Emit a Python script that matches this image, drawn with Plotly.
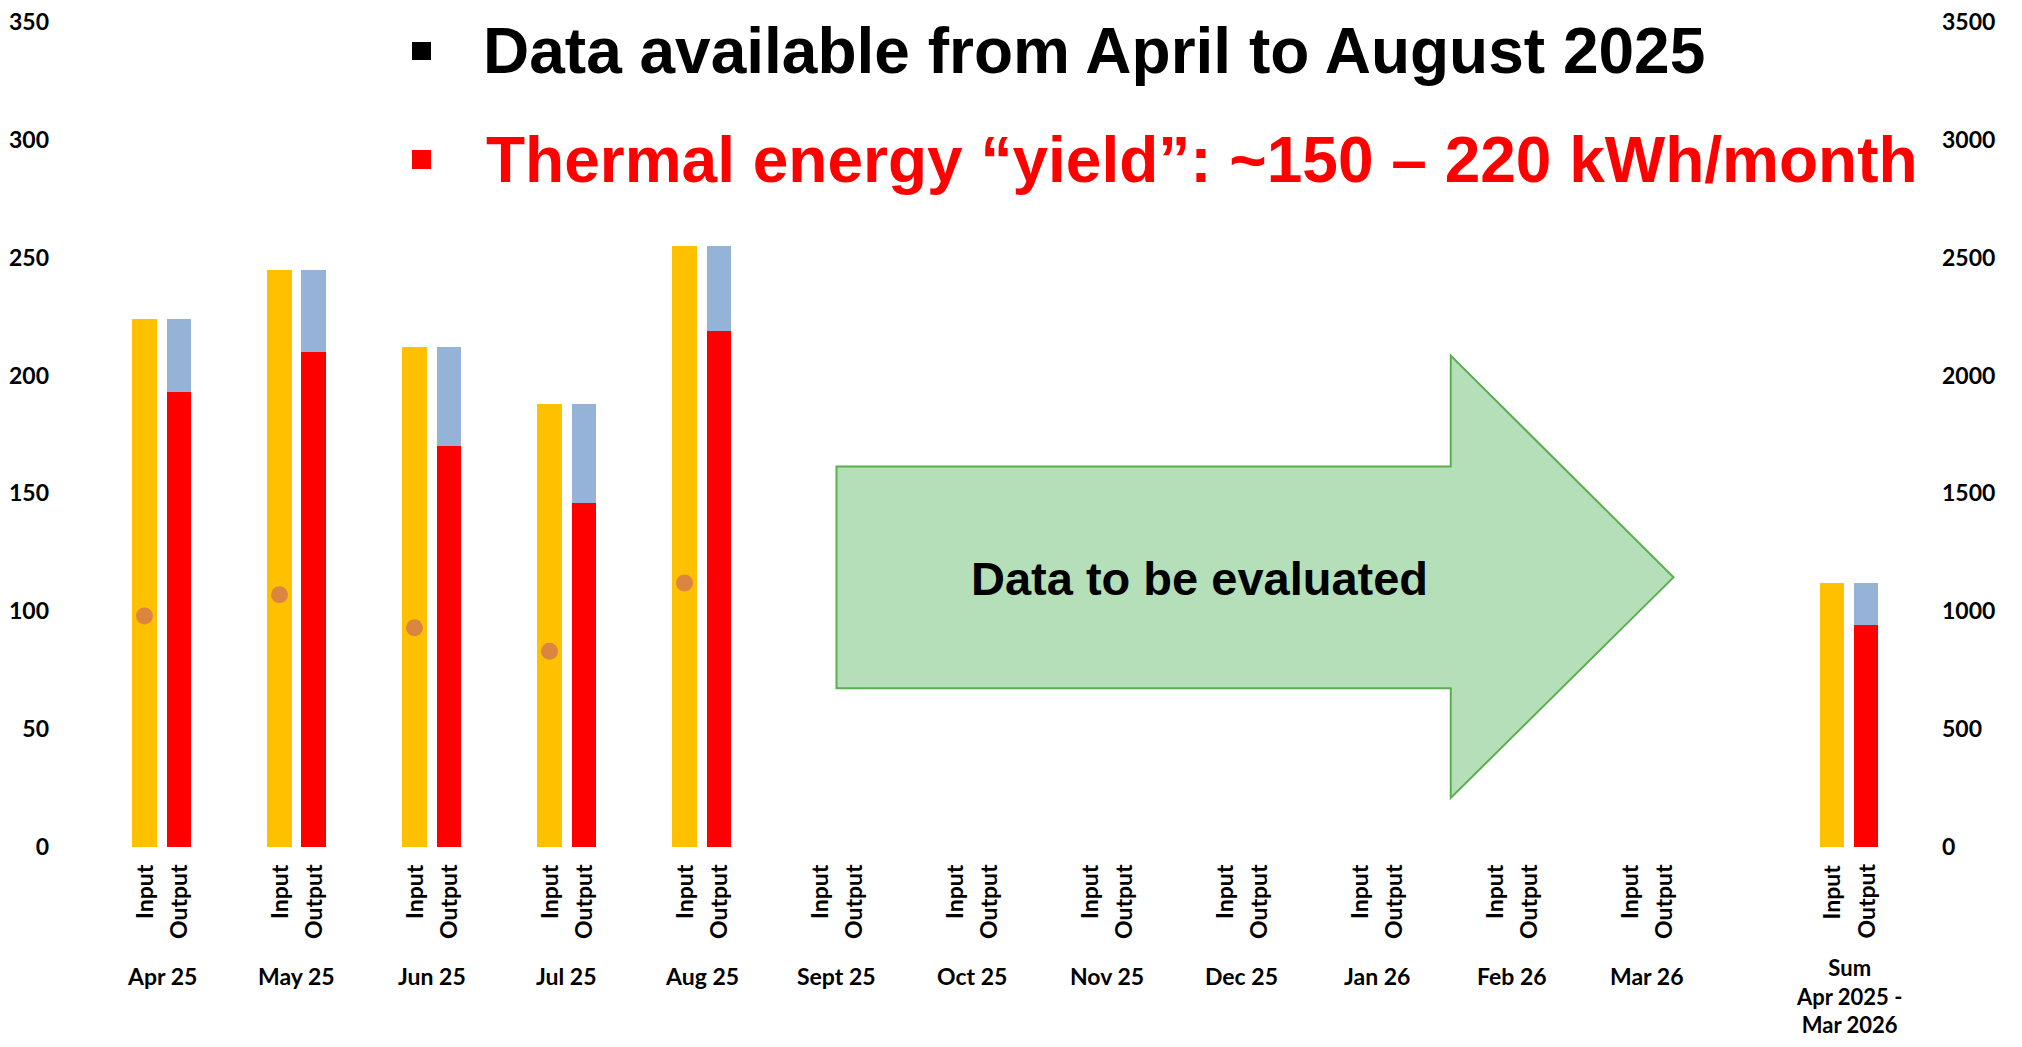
import plotly.graph_objects as go

# ---------------- data ----------------
months = ["Apr 25", "May 25", "Jun 25", "Jul 25", "Aug 25", "Sept 25", "Oct 25",
          "Nov 25", "Dec 25", "Jan 26", "Feb 26", "Mar 26"]
sum_label = "Sum<br>Apr 2025 -<br>Mar 2026"
bar_labels = ["Input", "Output"]

input_kwh = [224, 245, 212, 188, 255, None, None, None, None, None, None, None]
yield_kwh = [193, 210, 170, 146, 219, None, None, None, None, None, None, None]
loss_kwh = [31, 35, 42, 42, 36, None, None, None, None, None, None, None]
dot_vals = [98, 107, 93, 83, 112, None, None, None, None, None, None, None]

sum_input = [1120]
sum_yield = [940]
sum_loss = [180]

left_ticks = [0, 50, 100, 150, 200, 250, 300, 350]
right_ticks = [0, 500, 1000, 1500, 2000, 2500, 3000, 3500]

title1 = "Data available from April to August 2025"
title2 = "Thermal energy \u201cyield\u201d: ~150 \u2013 220 kWh/month"
arrow_text = "Data to be evaluated"

# ---------------- layout constants (page pixels; page has 8px body margin) ----------------
PAGE_W, PAGE_H = 2022, 1047
BODY = 8
W, H = PAGE_W - 2 * BODY, PAGE_H - 2 * BODY

PLOT_LEFT, PLOT_RIGHT = 60, 1920          # page px
PLOT_TOP, PLOT_BOTTOM = 22, 847           # page px
L = PLOT_LEFT - BODY
R = W - (PLOT_RIGHT - BODY)
T = PLOT_TOP - BODY
B = H - (PLOT_BOTTOM - BODY)
PW = PLOT_RIGHT - PLOT_LEFT
PH = PLOT_BOTTOM - PLOT_TOP

SPACING = 135.0
X0_PX = 161.5
xmin = -(X0_PX - PLOT_LEFT) / SPACING
xmax = xmin + PW / SPACING
OFF = 0.126
BW = 0.178
SUM_POS = 12.5

def px_x(p):
    return (p - PLOT_LEFT) / PW

def px_y(p):
    return (PLOT_BOTTOM - p) / PH

month_pos = list(range(len(months)))
in_x = [p - OFF for p in month_pos]
out_x = [p + OFF for p in month_pos]

C_IN = "#FFC000"
C_YIELD = "#FF0000"
C_LOSS = "#95B3D7"
C_DOT = "#DB8540"

LABEL_FONT = "Lato, Carlito, Calibri, sans-serif"
TITLE_FONT = "Liberation Sans, Arial, sans-serif"

fig = go.Figure()
fig.add_trace(go.Bar(x=in_x, y=input_kwh, width=BW, marker=dict(color=C_IN, line=dict(width=0)), name="Input"))
fig.add_trace(go.Bar(x=out_x, y=yield_kwh, width=BW, marker=dict(color=C_YIELD, line=dict(width=0)), name="Yield"))
fig.add_trace(go.Bar(x=out_x, y=loss_kwh, width=BW, marker=dict(color=C_LOSS, line=dict(width=0)), name="Losses"))
fig.add_trace(go.Scatter(x=in_x, y=dot_vals, mode="markers", marker=dict(color=C_DOT, size=17), name="Marker"))

fig.add_trace(go.Bar(x=[SUM_POS - OFF], y=sum_input, width=BW, yaxis="y2", marker=dict(color=C_IN, line=dict(width=0)), name="Sum input"))
fig.add_trace(go.Bar(x=[SUM_POS + OFF], y=sum_yield, width=BW, yaxis="y2", marker=dict(color=C_YIELD, line=dict(width=0)), name="Sum yield"))
fig.add_trace(go.Bar(x=[SUM_POS + OFF], y=sum_loss, width=BW, yaxis="y2", marker=dict(color=C_LOSS, line=dict(width=0)), name="Sum losses"))

annotations = []
all_pos = month_pos + [SUM_POS]
for p in all_pos:
    for lab, dx in zip(bar_labels, (-OFF, OFF)):
        annotations.append(dict(
            x=p + dx, y=px_y(862), xref="x", yref="paper", text=lab, textangle=-90,
            showarrow=False, xanchor="center", yanchor="top",
            font=dict(family=LABEL_FONT, size=23, color="black", weight="bold")))
for p, m in zip(month_pos, months):
    annotations.append(dict(
        x=p, y=px_y(960), xref="x", yref="paper", text=m, showarrow=False,
        xanchor="center", yanchor="top",
        font=dict(family=LABEL_FONT, size=23, color="black", weight="bold")))
annotations.append(dict(
    x=SUM_POS, y=px_y(952), xref="x", yref="paper", text=sum_label, showarrow=False,
    xanchor="center", yanchor="top", align="center",
    font=dict(family=LABEL_FONT, size=22, color="black", weight="bold")))

annotations.append(dict(
    x=px_x(481), y=px_y(51), xref="paper", yref="paper", text=title1, showarrow=False,
    xanchor="left", yanchor="middle",
    font=dict(family=TITLE_FONT, size=64, color="black", weight="bold")))
annotations.append(dict(
    x=px_x(484), y=px_y(160), xref="paper", yref="paper", text=title2, showarrow=False,
    xanchor="left", yanchor="middle",
    font=dict(family=TITLE_FONT, size=64, color="#FF0000", weight="bold")))

annotations.append(dict(
    x=(1199 - X0_PX) / SPACING, y=114, xref="x", yref="y", text=arrow_text, showarrow=False,
    xanchor="center", yanchor="middle",
    font=dict(family=TITLE_FONT, size=47, color="black", weight="bold")))

ax0, ax1, ax2 = 5.0, 9.55, 11.2
ay_body_top, ay_body_bot = 161.4, 67.4
ay_head_top, ay_head_bot, ay_tip = 208.5, 20.8, 114.4
arrow_path = (f"M {ax0},{ay_body_top} L {ax1},{ay_body_top} L {ax1},{ay_head_top} "
              f"L {ax2},{ay_tip} L {ax1},{ay_head_bot} L {ax1},{ay_body_bot} "
              f"L {ax0},{ay_body_bot} Z")
shapes = [
    dict(type="path", path=arrow_path, xref="x", yref="y",
         fillcolor="#B5DFB8", line=dict(color="#5BAE50", width=2), layer="below"),
    dict(type="rect", xref="paper", yref="paper",
         x0=px_x(412), x1=px_x(431), y0=px_y(60), y1=px_y(42),
         fillcolor="black", line=dict(width=0)),
    dict(type="rect", xref="paper", yref="paper",
         x0=px_x(412), x1=px_x(431), y0=px_y(169), y1=px_y(150),
         fillcolor="#FF0000", line=dict(width=0)),
]

fig.update_layout(
    width=W, height=H,
    margin=dict(l=L, r=R, t=T, b=B, autoexpand=False),
    paper_bgcolor="white", plot_bgcolor="white",
    barmode="stack", showlegend=False,
    xaxis=dict(range=[xmin, xmax], showgrid=False, zeroline=False, showticklabels=False,
               showline=False, ticks=""),
    yaxis=dict(range=[0, 350], tickvals=left_ticks, showgrid=False, zeroline=False,
               showline=False, ticks="", ticklabelstandoff=10, ticklabeloverflow="allow",
               tickfont=dict(family=LABEL_FONT, size=23, color="black", weight="bold")),
    yaxis2=dict(range=[0, 3500], tickvals=right_ticks, overlaying="y", side="right",
                showgrid=False, zeroline=False, showline=False, ticks="",
                ticklabelstandoff=21, ticklabeloverflow="allow",
                tickfont=dict(family=LABEL_FONT, size=23, color="black", weight="bold")),
    annotations=annotations,
    shapes=shapes,
)

fig.write_html("out.html")
